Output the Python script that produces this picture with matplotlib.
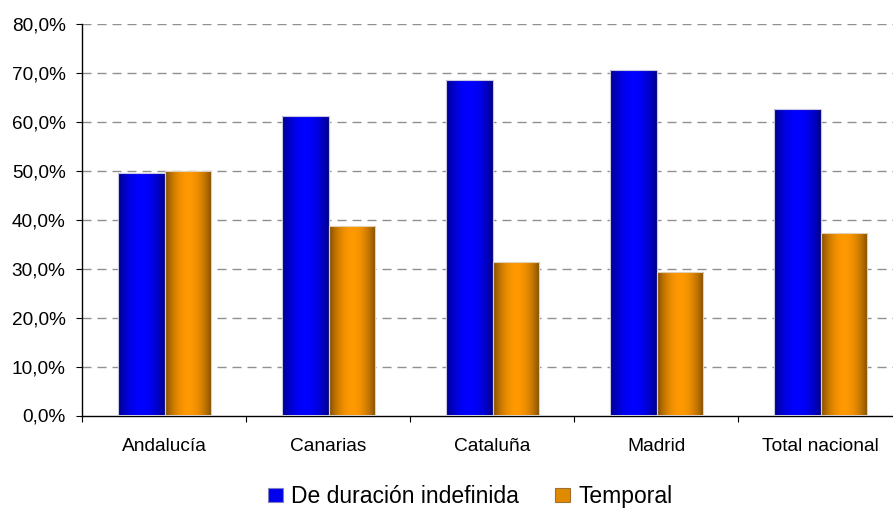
import numpy as np
import matplotlib
matplotlib.use("Agg")
import matplotlib.pyplot as plt
from matplotlib.patches import Patch
from matplotlib.ticker import FixedLocator, FuncFormatter

plt.rcParams['font.family'] = ['Liberation Sans', 'DejaVu Sans']

categories = ['Andalucía', 'Canarias', 'Cataluña', 'Madrid', 'Total nacional']
indefinida = [49.6, 61.3, 68.5, 70.5, 62.6]
temporal = [50.0, 38.7, 31.4, 29.3, 37.2]
series_names = ['De duración indefinida', 'Temporal']
yticks = [0, 10, 20, 30, 40, 50, 60, 70, 80]

W, H = 893, 508
fig = plt.figure(figsize=(W / 100, H / 100), dpi=100)
ax = fig.add_axes([82 / W, 92.5 / H, 820 / W, 391.5 / H])

x = np.arange(len(categories))
bw = 0.283
b1 = ax.bar(x - 0.137, indefinida, bw, facecolor='none', edgecolor='#c8c8e0', linewidth=0.8, zorder=3)
b2 = ax.bar(x + 0.147, temporal, bw, facecolor='none', edgecolor='#e0d0b8', linewidth=0.8, zorder=3)

t = np.linspace(0, 1, 128)
f = np.sin(np.pi * t) ** 0.75


def grad(rects, dark, bright):
    dark = np.array(dark); bright = np.array(bright)
    img = (dark[None, :] + (bright - dark)[None, :] * f[:, None])[None, :, :]
    for r in rects:
        x0, w, h = r.get_x(), r.get_width(), r.get_height()
        im = ax.imshow(img, extent=(x0, x0 + w, 0, h), aspect='auto', zorder=2,
                       interpolation='bilinear')
        im.set_clip_path(r)


grad(b1, (0.0, 0.0, 0.5), (0.0, 0.0, 1.0))
grad(b2, (0.46, 0.28, 0.0), (1.0, 0.6, 0.0))

ax.set_xlim(-0.5, 4.5)
ax.set_ylim(0, 80)

for v in yticks[1:]:
    ax.axhline(v, color='#909090', linewidth=1.0, dashes=(6.5, 4.3), zorder=1)

ax.set_yticks(yticks)
ax.yaxis.set_major_formatter(FuncFormatter(lambda v, p: f"{v:.1f}".replace('.', ',') + '%'))
ax.tick_params(axis='y', length=4.3, width=0.8, pad=7.5, labelsize=13.7, colors='black')

ax.set_xticks(x)
ax.set_xticklabels(categories)
ax.xaxis.set_minor_locator(FixedLocator(np.arange(-0.5, 5, 1)))
ax.tick_params(axis='x', which='major', length=0, pad=16.5, labelsize=13.8)
ax.tick_params(axis='x', which='minor', length=4.3, width=0.8)

for s in ['top', 'right']:
    ax.spines[s].set_visible(False)
for s in ['left', 'bottom']:
    ax.spines[s].set_color('black')
    ax.spines[s].set_linewidth(1.0)

handles = [Patch(facecolor='#0000ee', edgecolor='#8080c0', linewidth=0.8),
           Patch(facecolor='#e08a00', edgecolor='#a07030', linewidth=0.8)]
fig.legend(handles, series_names, loc='center', bbox_to_anchor=(470 / W, (H - 496.5) / H),
           ncol=2, frameon=False, fontsize=16.5, handlelength=0.65, handleheight=0.55,
           handletextpad=0.35, columnspacing=1.6, borderpad=0, borderaxespad=0)

fig.savefig('out.png', dpi=100)
